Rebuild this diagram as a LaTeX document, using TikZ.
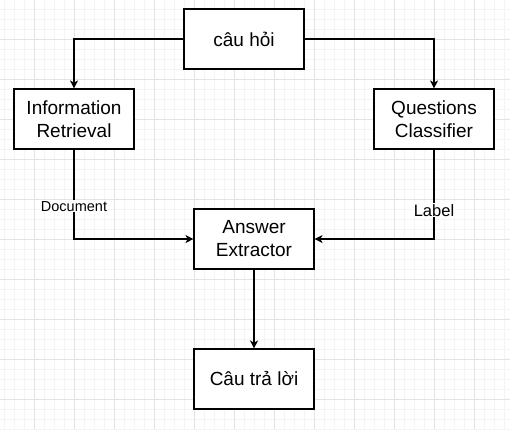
\documentclass[tikz,border=0pt]{standalone}
\usepackage{fontspec}
\setmainfont{Liberation Sans}
\usetikzlibrary{positioning,arrows.meta}

\begin{document}
\begin{tikzpicture}[x = 1pt,
                    y = -1pt,
                    color = {black}]
% styles
\tikzset{boxstyle/.style={draw=black,fill=white,line width=1.1pt,minimum width=120pt,minimum height=60pt,align=center,font=\fontsize{19}{23}\selectfont,inner sep=0pt}}
\tikzset{linkstyle/.style={line width=1.1pt,arrows = -{Stealth[length=8pt,width=8pt,inset=2.2pt]}}}
\tikzset{lblstyle/.style={fill=white,inner sep=1pt}}
\useasboundingbox (0,0) rectangle (510,429);
% grid
\fill[white] (0,0) rectangle (510,429);
\foreach \x in {4,14,...,504} \draw[gray!9,line width=0.6pt] (\x,0) -- (\x,429);
\foreach \y in {9,19,...,429} \draw[gray!9,line width=0.6pt] (0,\y) -- (510,\y);
\foreach \x in {34,74,...,504} \draw[gray!22,line width=0.6pt] (\x,0) -- (\x,429);
\foreach \y in {39,79,...,429} \draw[gray!22,line width=0.6pt] (0,\y) -- (510,\y);

% boxes
\node[boxstyle] (Q)   at (244,39)  {câu hỏi};
\node[boxstyle] (IR)  at (74,119)  {Information\\Retrieval};
\node[boxstyle] (QC)  at (434,119) {Questions\\Classifier};
\node[boxstyle] (AE)  at (254,239) {Answer\\Extractor};
\node[boxstyle] (ANS) at (254,379) {Câu trả lời};

% links
\draw [linkstyle] (Q.west) -| (IR.north);
\draw [linkstyle] (Q.east) -| (QC.north);
\draw [linkstyle] (IR.south) |- node[lblstyle,pos=0.317,font=\fontsize{14.5}{17}\selectfont] (doc) {Document} (AE.west);
\draw [linkstyle] (QC.south) |- node[lblstyle,pos=0.339,font=\fontsize{16.5}{19}\selectfont] (lab) {Label} (AE.east);
\draw [linkstyle] (AE.south) -- (ANS.north);
\end{tikzpicture}
\end{document}
